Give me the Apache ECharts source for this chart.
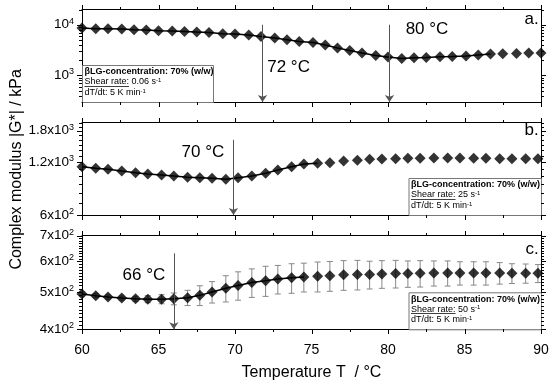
<!DOCTYPE html>
<html><head><meta charset="utf-8">
<script src="https://cdn.jsdelivr.net/npm/echarts@6/dist/echarts.min.js"></script>
<style>html,body{margin:0;padding:0;background:#fff}#c{width:550px;height:382px}</style>
</head><body><div id="c"></div>
<script>
// ---------- data ----------
const xA = [60.0, 60.9, 61.7, 62.6, 63.4, 64.2, 65.0, 65.9, 66.7, 67.5, 68.3, 69.2, 70.0, 70.9, 71.7, 72.6, 73.4, 74.2, 75.1, 75.9, 76.7, 77.5, 78.3, 79.2, 80.0, 80.9, 81.7, 82.5, 83.4, 84.2, 85.1, 85.9, 86.7, 87.5, 88.4, 89.2, 90.0];
const gA = [8610, 8340, 8340, 8230, 7970, 7860, 7620, 7510, 7380, 7180, 7050, 6650, 6560, 6270, 5880, 5470, 5060, 4690, 4480, 3980, 3470, 3110, 2770, 2480, 2310, 2160, 2240, 2270, 2340, 2370, 2420, 2530, 2640, 2680, 2720, 2770, 2770];
const xBC = [60.0, 60.9, 61.7, 62.6, 63.5, 64.3, 65.2, 66.0, 66.9, 67.7, 68.5, 69.4, 70.2, 71.1, 72.0, 72.8, 73.7, 74.5, 75.4, 76.2, 77.1, 78.0, 78.8, 79.6, 80.5, 81.3, 82.1, 83.0, 83.9, 84.7, 85.6, 86.4, 87.3, 88.1, 89.0, 89.8];
const gB = [1127, 1104, 1089, 1065, 1042, 1024, 1011, 998, 981, 976, 969, 956, 976, 998, 1034, 1079, 1127, 1167, 1178, 1187, 1214, 1225, 1241, 1246, 1251, 1257, 1257, 1263, 1263, 1263, 1257, 1257, 1251, 1251, 1251, 1251];
const gC = [494, 489, 485, 482, 480, 479, 479, 480, 483, 490, 500, 511, 520, 529, 535, 540, 544, 547, 549, 551, 554, 555, 555, 557, 558, 558, 559, 560, 560, 560, 560, 560, 560, 559, 559, 559];
const errC = [6, 6, 6, 6, 7, 10, 13, 17, 22, 29, 32, 40, 44, 45, 48, 46, 48, 47, 49, 49, 49, 49, 46, 46, 46, 44, 44, 42, 42, 39, 39, 39, 36, 33, 32, 30];
const lineCountA = 33, lineCountB = 19, lineCountC = 18;

const xMajor = [60, 65, 70, 75, 80, 85, 90];
const xMinor = [62.5, 67.5, 72.5, 77.5, 82.5, 87.5];
const yLabelsA = [[1000, '10', '3'], [10000, '10', '4']];
const yLabelsB = [[600, '6x10', '2'], [1200, '1.2x10', '3'], [1800, '1.8x10', '3']];
const yLabelsC = [[400, '4x10', '2'], [500, '5x10', '2'], [600, '6x10', '2'], [700, '7x10', '2']];
const minorA = [400, 500, 600, 700, 800, 900, 2000, 3000, 4000, 5000, 6000, 7000, 8000, 9000, 20000];
const minorB = [700, 800, 900, 1000, 1100, 1300, 1400, 1500, 1600, 1700, 1900, 2000];
const minorC = [410, 420, 430, 440, 450, 460, 470, 480, 490, 510, 520, 530, 540, 550, 560, 570, 580, 590, 610, 620, 630, 640, 650, 660, 670, 680, 690];
const yRanges = [[300, 20000], [600, 2000], [400, 700]];

const arrows = [{g: 0, x: 71.8, top: 10000}, {g: 0, x: 80.1, top: 10000}, {g: 1, x: 69.9, top: 1600}, {g: 2, x: 66.0, top: 630}];
const annotations = [{g: 0, x: 73.5, y: 1420, text: '72 °C'}, {g: 0, x: 82.55, y: 7960, text: '80 °C'}, {g: 1, x: 67.9, y: 1365, text: '70 °C'}, {g: 2, x: 64.05, y: 553, text: '66 °C'}];
const panelTags = [{g: 0, y: 12550, text: 'a.'}, {g: 1, y: 1818, text: 'b.'}, {g: 2, y: 647, text: 'c.'}];
const infoTitle = 'βLG-concentration: 70% (w/w)';
const shearRates = ['0.06', '25', '50'];
const xTitle = 'Temperature T  / °C';
const yTitle = 'Complex modulus |G*| / kPa';

// ---------- chart ----------
const FONT = '"Liberation Sans", Arial, sans-serif';
const chart = echarts.init(document.getElementById('c'), null, {renderer: 'canvas', width: 550, height: 382});
const grids = [
  {left: 82, right: 9, top: 9.5, height: 92.5, outerBoundsMode: 'none'},
  {left: 82, right: 9, top: 122.7, height: 92.3, outerBoundsMode: 'none'},
  {left: 82, right: 9, top: 235.7, height: 93.6, outerBoundsMode: 'none'}
];
const labelSets = [yLabelsA, yLabelsB, yLabelsC];
const minorSets = [minorA, minorB, minorC];

const xAxes = [];
grids.forEach((g, gi) => {
  ['bottom', 'top'].forEach(pos => {
    const main = gi === 2 && pos === 'bottom';
    xAxes.push({
      type: 'value', gridIndex: gi, position: pos, min: 60, max: 90, interval: 5,
      axisLine: {show: true, onZero: false, lineStyle: {color: '#000', width: 1}},
      axisTick: {show: false}, minorTick: {show: false},
      splitLine: {show: false}, minorSplitLine: {show: false},
      axisLabel: {show: main, color: '#000', fontSize: 14, fontFamily: FONT, margin: 14},
      name: main ? xTitle : '', nameLocation: 'middle', nameGap: 35,
      nameTextStyle: {color: '#000', fontSize: 16, fontFamily: FONT}
    });
  });
});

const yAxes = [];
grids.forEach((g, gi) => {
  const [mn, mx] = yRanges[gi];
  const labs = labelSets[gi];
  const majors = labs.map(l => l[0]);
  const fmt = v => {
    const l = labs.find(e => Math.abs(v / e[0] - 1) < 1e-6);
    return l ? '{n|' + l[1] + '}{s|' + l[2] + '}' : '';
  };
  ['left', 'right'].forEach(pos => {
    yAxes.push({
      type: 'log', logBase: 10, gridIndex: gi, min: mn, max: mx, position: pos,
      splitLine: {show: false}, minorTick: {show: false}, minorSplitLine: {show: false},
      axisLine: {show: true, onZero: false, lineStyle: {color: '#000', width: 1}},
      axisTick: {show: false},
      axisLabel: {
        show: pos === 'left', customValues: majors, formatter: fmt, margin: 8,
        rich: {
          n: {fontSize: 13.5, fontFamily: FONT, color: '#000', lineHeight: 16},
          s: {fontSize: 9, fontFamily: FONT, color: '#000', lineHeight: 10, verticalAlign: 'top'}
        }
      }
    });
  });
});

const series = [];
const pts = (xs, ys) => xs.map((x, i) => [x, ys[i]]);
const panels = [
  {xs: xA, ys: gA, n: lineCountA},
  {xs: xBC, ys: gB, n: lineCountB},
  {xs: xBC, ys: gC, n: lineCountC}
];
panels.forEach((p, gi) => {
  const ax = {xAxisIndex: gi * 2, yAxisIndex: gi * 2};
  const ymn = yRanges[gi][0];
  const marks = arrows.filter(a => a.g === gi).map(a => [
    {coord: [a.x, a.top], symbol: 'none'},
    {coord: [a.x, ymn], symbol: 'arrow', symbolSize: 7}
  ]);
  series.push(Object.assign({
    type: 'line', data: pts(p.xs, p.ys).slice(0, p.n), showSymbol: false, symbol: 'none',
    lineStyle: {color: '#000', width: 1.5}, z: 3, silent: true,
    markLine: {
      silent: true, symbol: ['none', 'arrow'], symbolSize: 7, label: {show: false},
      lineStyle: {color: '#555', width: 1, type: 'solid'}, itemStyle: {color: '#333'},
      emphasis: {disabled: true}, data: marks
    }
  }, ax));
  if (gi === 2) {
    series.push(Object.assign({
      type: 'custom', z: 2, silent: true,
      data: p.xs.map((x, i) => [x, p.ys[i], errC[i]]),
      encode: {x: 0, y: 1},
      renderItem: (params, api) => {
        const x = api.value(0), y = api.value(1), e = api.value(2);
        const hi = api.coord([x, y + e]), lo = api.coord([x, y - e]);
        const cw = 3, st = {stroke: '#888', lineWidth: 1};
        return {type: 'group', children: [
          {type: 'line', shape: {x1: hi[0], y1: hi[1], x2: lo[0], y2: lo[1]}, style: st},
          {type: 'line', shape: {x1: hi[0] - cw, y1: hi[1], x2: hi[0] + cw, y2: hi[1]}, style: st},
          {type: 'line', shape: {x1: lo[0] - cw, y1: lo[1], x2: lo[0] + cw, y2: lo[1]}, style: st}
        ]};
      }
    }, ax));
  }
  series.push(Object.assign({
    type: 'scatter', data: pts(p.xs, p.ys), symbol: 'diamond', symbolSize: 11,
    itemStyle: {color: '#000'}, z: 4, silent: true
  }, ax));
});

chart.setOption({
  animation: false, backgroundColor: '#fff',
  grid: grids, xAxis: xAxes, yAxis: yAxes, series: series
});

// ---------- ticks, annotations, info boxes ----------
const toPx = (gi, x, y) => chart.convertToPixel({xAxisIndex: gi * 2, yAxisIndex: gi * 2}, [x, y]);
const graphics = [];
const addBar = (x, y, w, h) => graphics.push({type: 'rect', z: 12, silent: true,
  shape: {x: x, y: y, width: w, height: h}, style: {fill: '#000', stroke: null}});
[0, 1, 2].forEach(gi => {
  const [ymn, ymx] = yRanges[gi];
  const xt = xMajor.map(v => [v, 5]).concat(xMinor.map(v => [v, 3]));
  xt.forEach(([v, len]) => {
    const b = toPx(gi, v, ymn), t = toPx(gi, v, ymx);
    const x = Math.round(b[0]);
    addBar(x, Math.round(b[1]), 1, len);
    addBar(x, Math.round(t[1]) - len, 1, len);
  });
  const yt = labelSets[gi].map(l => [l[0], 5]).concat(minorSets[gi].map(v => [v, 3]));
  yt.forEach(([v, len]) => {
    const l = toPx(gi, 60, v), r = toPx(gi, 90, v);
    const y = Math.round(l[1]);
    addBar(Math.round(l[0]) - len, y, len, 1);
    addBar(Math.round(r[0]), y, len, 1);
  });
});
annotations.forEach(a => {
  const p = toPx(a.g, a.x, a.y);
  graphics.push({type: 'text', x: p[0], y: p[1], z: 10, silent: true,
    style: {text: a.text, fill: '#000', font: '17px ' + FONT, textAlign: 'center', textVerticalAlign: 'middle'}});
});
panelTags.forEach(t => {
  const p = toPx(t.g, 89.85, t.y);
  graphics.push({type: 'text', x: p[0], y: p[1], z: 10, silent: true,
    style: {text: t.text, fill: '#000', font: '17px ' + FONT, textAlign: 'right', textVerticalAlign: 'middle'}});
});
const mctx = document.createElement('canvas').getContext('2d');
mctx.font = '100px ' + FONT;
const yTitleSize = Math.min(16, 100 * 210 / mctx.measureText(yTitle).width);
const cTop = toPx(0, 60, yRanges[0][1]), cBot = toPx(2, 60, yRanges[2][0]);
graphics.push({type: 'text', x: 17, y: (cTop[1] + cBot[1]) / 2, rotation: Math.PI / 2, z: 10, silent: true,
  style: {text: yTitle, fill: '#000', font: yTitleSize.toFixed(2) + 'px ' + FONT, textAlign: 'center', textVerticalAlign: 'middle'}});
mctx.font = '9px ' + FONT;
const ulW = mctx.measureText('Shear rate:').width;
[0, 1, 2].forEach(gi => {
  const bl = toPx(gi, 60, yRanges[gi][0]);
  const br = toPx(gi, 90, yRanges[gi][0]);
  const w = gi === 0 ? 131 : 132.5;
  const h = 37;
  const left = gi === 0 ? bl[0] : br[0] - w;
  const bottom = bl[1];
  const tx = left + 2.5;
  graphics.push({type: 'rect', z: 8, silent: true, shape: {x: left + 0.5, y: bottom - h + 0.5, width: w, height: h},
    style: {fill: '#fff', stroke: '#777', lineWidth: 1}});
  graphics.push({type: 'text', z: 9, silent: true, x: tx, y: bottom - 30,
    style: {text: infoTitle, fill: '#000', font: 'bold 9px ' + FONT, textAlign: 'left', textVerticalAlign: 'middle'}});
  graphics.push({type: 'text', z: 9, silent: true, x: tx, y: bottom - 20,
    style: {text: 'Shear rate: ' + shearRates[gi] + ' s{s|-1}', fill: '#000', font: '9px ' + FONT, textAlign: 'left', textVerticalAlign: 'middle',
      rich: {s: {fontSize: 6, fontFamily: FONT, fill: '#000', verticalAlign: 'top', lineHeight: 6}}}});
  graphics.push({type: 'rect', z: 9, silent: true, shape: {x: tx, y: Math.round(bottom - 16), width: ulW, height: 0.8},
    style: {fill: '#000', stroke: null}});
  graphics.push({type: 'text', z: 9, silent: true, x: tx, y: bottom - 9.5,
    style: {text: 'dT/dt: 5 K min{s|-1}', fill: '#000', font: '9px ' + FONT, textAlign: 'left', textVerticalAlign: 'middle',
      rich: {s: {fontSize: 6, fontFamily: FONT, fill: '#000', verticalAlign: 'top', lineHeight: 6}}}});
});
chart.setOption({graphic: {elements: graphics}});
</script>
</body></html>
